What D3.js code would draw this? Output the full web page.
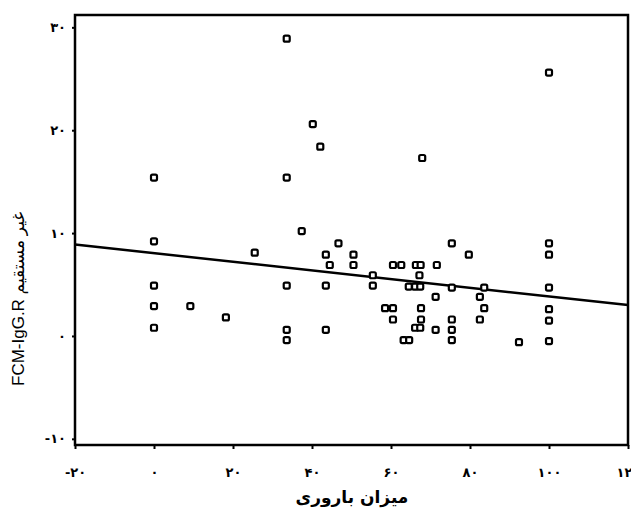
<!DOCTYPE html>
<html>
<head>
<meta charset="utf-8">
<script src="https://cdn.jsdelivr.net/npm/d3@7/dist/d3.min.js"></script>
<style>
  body { margin: 0; background: #fff; }
  svg { display: block; }
</style>
</head>
<body>
<div id="chart"></div>
<script>
// fertility rate (x) and indirect FCM-IgG.R (y)
var fertility = [
    0, 0, 0, 0, 0,
    9.2, 18.2, 25.5,
    33.6, 33.6, 33.6, 33.6, 33.6,
    37.4, 40.2, 42.1, 46.7,
    43.5, 44.5, 43.5, 43.5,
    50.5, 50.5, 55.4, 55.4, 58.5,
    60.5, 62.6, 60.5, 60.5,
    63.2, 64.6, 64.5,
    66.3, 67.5, 67.2, 66.1, 67.4, 67.6, 67.6, 66.1, 67.4, 67.9,
    71.3, 71.6, 71.3,
    75.4, 75.4, 75.4, 75.4, 75.4,
    79.7, 82.5, 82.5, 83.6, 83.6, 92.4,
    100, 100, 100, 100, 100, 100, 100
];
var fcm = [
    15.4, 9.2, 4.9, 2.9, 0.8,
    2.9, 1.8, 8.1,
    28.9, 15.4, 4.9, 0.6, -0.4,
    10.2, 20.6, 18.4, 9.0,
    7.9, 6.9, 4.9, 0.6,
    7.9, 6.9, 5.9, 4.9, 2.7,
    6.9, 6.9, 2.7, 1.6,
    -0.4, -0.4, 4.8,
    6.9, 6.9, 5.9, 4.8, 4.8, 2.7, 1.6, 0.8, 0.8, 17.3,
    3.8, 6.9, 0.6,
    9.0, 4.7, 1.6, 0.6, -0.4,
    7.9, 3.8, 1.6, 4.7, 2.7, -0.6,
    25.6, 9.0, 7.9, 4.7, 2.6, 1.5, -0.5
];

// fitted regression line
var fit_intercept = 8.05;
var fit_slope = -0.0421;

var x_ticks = [-20, 0, 20, 40, 60, 80, 100, 120];
var y_ticks = [-10, 0, 10, 20, 30];

var svg_width = 631;
var svg_height = 510;
var plot = { left: 75, right: 628, top: 15, bottom: 445 };

var svg = d3.select("#chart")
    .append("svg")
    .attr("width", svg_width)
    .attr("height", svg_height);

var x_scale = d3.scaleLinear().domain([-20, 120]).range([plot.left, plot.right]);
var y_scale = d3.scaleLinear().domain([-10.6, 31.2]).range([plot.bottom, plot.top]);

// western digits -> persian digits
var fa_digits = "۰۱۲۳۴۵۶۷۸۹";
function toPersian(n) {
    return String(n).replace(/[0-9]/g, d => fa_digits[+d]);
}

var tick_font = "'DejaVu Sans', sans-serif";

// axes
var x_axis = svg.append("g")
    .attr("transform", `translate(0, ${plot.bottom})`)
    .call(d3.axisBottom(x_scale).tickValues(x_ticks).tickSize(4).tickPadding(19).tickFormat(toPersian));

var y_axis = svg.append("g")
    .attr("transform", `translate(${plot.left}, 0)`)
    .call(d3.axisLeft(y_scale).tickValues(y_ticks).tickSize(3).tickPadding(6).tickFormat(toPersian));

[x_axis, y_axis].forEach(function(ax) {
    ax.select(".domain").remove();
    ax.selectAll(".tick line").attr("stroke", "#000").attr("stroke-width", 2);
    ax.selectAll(".tick text")
        .attr("fill", "#000")
        .style("font-family", tick_font)
        .style("font-size", "13px")
        .style("font-weight", "bold");
});

// frame
svg.append("rect")
    .attr("x", plot.left)
    .attr("y", plot.top)
    .attr("width", plot.right - plot.left)
    .attr("height", plot.bottom - plot.top)
    .attr("fill", "none")
    .attr("stroke", "#000")
    .attr("stroke-width", 2.5);

// regression line
var line = d3.line()
    .x(d => x_scale(d))
    .y(d => y_scale(fit_intercept + fit_slope * d));

svg.append("path")
    .datum([-20, 120])
    .attr("d", line)
    .attr("fill", "none")
    .attr("stroke", "#000")
    .attr("stroke-width", 2.5);

// points
var box = 6;
svg.append("g")
    .selectAll("rect")
    .data(fertility.map((f, i) => [f, fcm[i]]))
    .enter()
    .append("rect")
    .attr("x", d => x_scale(d[0]) - box / 2)
    .attr("y", d => y_scale(d[1]) - box / 2)
    .attr("width", box)
    .attr("height", box)
    .attr("rx", 1.5)
    .attr("fill", "#fff")
    .attr("stroke", "#000")
    .attr("stroke-width", 2.2);

// axis titles
svg.append("text")
    .attr("x", 352)
    .attr("y", 503)
    .attr("text-anchor", "middle")
    .style("font-family", tick_font)
    .style("font-size", "17px")
    .style("font-weight", "bold")
    .text("میزان باروری");

svg.append("text")
    .attr("transform", "translate(24, 386) rotate(-90)")
    .attr("text-anchor", "start")
    .style("font-family", "'Liberation Sans', 'DejaVu Sans', sans-serif")
    .style("font-size", "17px")
    .text("FCM-IgG.R غیر مستقیم");
</script>
</body>
</html>
